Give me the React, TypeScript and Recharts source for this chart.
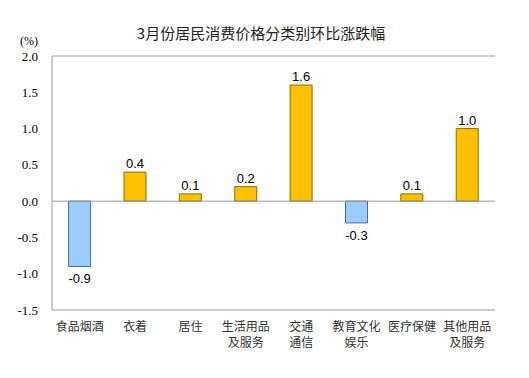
import React from "react";
import {
  BarChart,
  Bar,
  XAxis,
  YAxis,
  Cell,
  LabelList,
  ReferenceLine,
} from "recharts";

const categories = [
  "食品烟酒",
  "衣着",
  "居住",
  "生活用品\n及服务",
  "交通\n通信",
  "教育文化\n娱乐",
  "医疗保健",
  "其他用品\n及服务",
];
const changes = [-0.9, 0.4, 0.1, 0.2, 1.6, -0.3, 0.1, 1.0];
const yTicks = [-1.5, -1.0, -0.5, 0.0, 0.5, 1.0, 1.5, 2.0];

const data = categories.map((name, i) => ({ name, value: changes[i] }));

const sans = "'Noto Sans CJK SC', 'Noto Sans', sans-serif";
const serif = "'Liberation Serif', 'Times New Roman', serif";

const CategoryTick = (props: any) => {
  const { x, y, payload } = props;
  const lines = String(payload.value).split("\n");
  return (
    <text x={x} y={y} textAnchor="middle" fontFamily={sans} fontSize={12} fill="#333">
      {lines.map((l, i) => (
        <tspan key={i} x={x} dy={i === 0 ? 13 : 16}>
          {l}
        </tspan>
      ))}
    </text>
  );
};

const ValueLabel = (props: any) => {
  const { x, y, width, height, value } = props;
  const cx = x + width / 2;
  const top = Math.min(y, y + height);
  const bottom = Math.max(y, y + height);
  const ty = value < 0 ? bottom + 17 : top - 4;
  return (
    <text x={cx} y={ty} textAnchor="middle" fontFamily="'Liberation Sans', Arial, sans-serif" fontSize={13} fill="#000">
      {value.toFixed(1)}
    </text>
  );
};

export default function App() {
  return (
    <div style={{ position: "absolute", left: 0, top: 0, width: 529, height: 378, background: "#fff" }}>
      <div
        style={{
          position: "absolute",
          left: 0,
          width: 522,
          top: 22,
          textAlign: "center",
          fontFamily: sans,
          fontSize: 15,
          color: "#222",
        }}
      >
        3月份居民消费价格分类别环比涨跌幅
      </div>
      <div
        style={{
          position: "absolute",
          left: 20,
          top: 34,
          fontFamily: serif,
          fontSize: 12,
          color: "#000",
        }}
      >
        (%)
      </div>
      <BarChart
        width={529}
        height={378}
        data={data}
        margin={{ top: 56, right: 34, left: 8, bottom: 28 }}
        barCategoryGap="30%"
      >
        <XAxis
          dataKey="name"
          interval={0}
          tick={<CategoryTick />}
          tickLine={false}
          axisLine={false}
          height={40}
        />
        <YAxis
          domain={[-1.5, 2]}
          ticks={yTicks}
          tickFormatter={(v: number) => v.toFixed(1)}
          tickLine={false}
          tickSize={0}
          tickMargin={14}
          width={44}
          axisLine={{ stroke: "#999" }}
          tick={{ fontFamily: serif, fontSize: 13, fill: "#000" }}
        />
        <YAxis
          yAxisId="r"
          orientation="right"
          domain={[-1.5, 2]}
          tick={false}
          tickLine={false}
          width={0}
          axisLine={{ stroke: "#999" }}
        />
        <ReferenceLine y={2} stroke="#999" />
        <ReferenceLine y={-1.5} stroke="#999" />
        <ReferenceLine y={0} stroke="#999" />
        <Bar dataKey="value" isAnimationActive={false}>
          {data.map((d, i) => (
            <Cell
              key={i}
              fill={d.value < 0 ? "#99CCFF" : "#FFC000"}
              stroke={d.value < 0 ? "#4F6A8A" : "#8C6D00"}
              strokeWidth={1}
            />
          ))}
          <LabelList dataKey="value" content={<ValueLabel />} />
        </Bar>
      </BarChart>
    </div>
  );
}
